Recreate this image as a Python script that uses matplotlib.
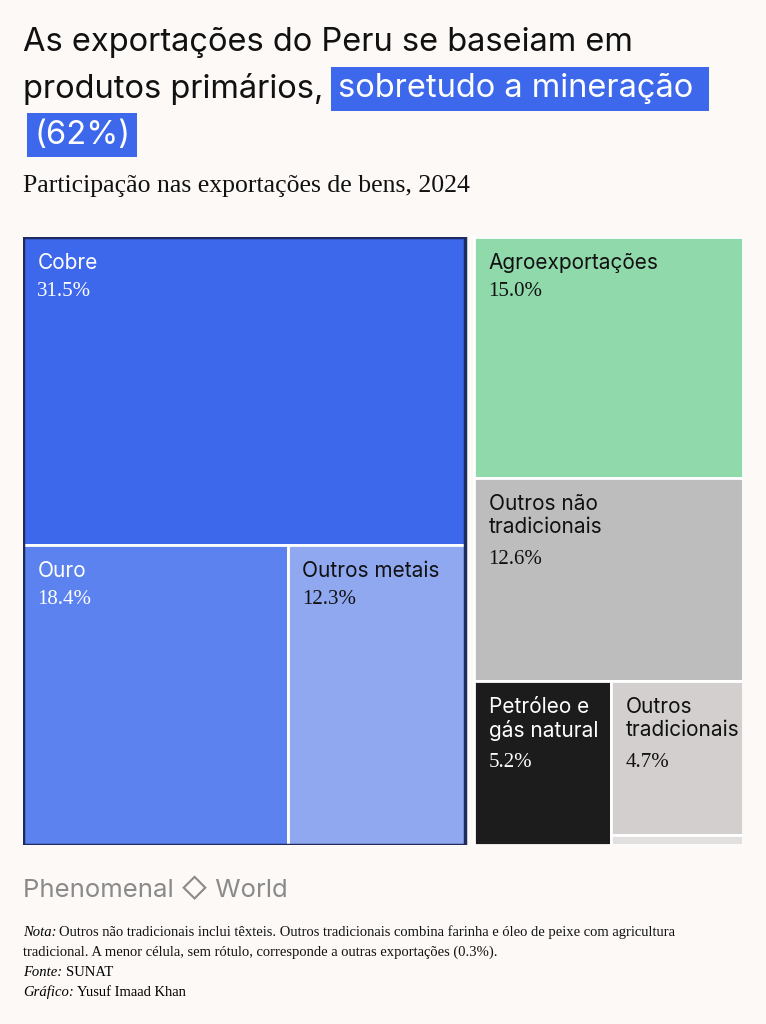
import matplotlib.pyplot as plt
from matplotlib.patches import Rectangle

BG = '#FDF9F7'
plt.rcParams['font.family'] = ['Inter', 'DejaVu Sans']
SERIF = ['Liberation Serif', 'DejaVu Serif']

# data (% of goods exports, 2024)
mining_names = ['Cobre', 'Ouro', 'Outros metais']
mining_vals = [31.5, 18.4, 12.3]
mining_colors = ['#3D68EC', '#5B82EE', '#8FA8F0']
other_names = ['Agroexportações', 'Outros não\ntradicionais', 'Petróleo e\ngás natural', 'Outros\ntradicionais', '']
other_vals = [15.0, 12.6, 5.2, 4.7, 0.3]
other_colors = ['#8FD9AB', '#BDBDBD', '#1C1C1C', '#D3CFCE', '#E2E0DF']

fig = plt.figure(figsize=(7.66, 10.24), dpi=100)
fig.patch.set_facecolor(BG)
W, H = 766, 1024

def fx(px): return px / W
def fy(py): return 1 - py / H

# title
fig.text(fx(23), fy(42), 'As exportações do Peru se baseiam em', fontsize=23.5, va='center', color='#111')
fig.text(fx(23), fy(89), 'produtos primários,', fontsize=23.5, va='center', color='#111')
hl = dict(facecolor='#3D68EC', edgecolor='none', pad=5)
fig.text(fx(338), fy(89), 'sobretudo a mineração ', fontsize=23.5, va='center', color='white', bbox=hl)
fig.text(fx(34), fy(135), '(62%)', fontsize=23.5, va='center', color='white', bbox=hl)
fig.text(fx(23), fy(186), 'Participação nas exportações de bens, 2024', fontsize=18.5, va='center',
         family=SERIF, color='#111')

# treemap axes
x0, x1, y0, y1 = 23, 743, 237, 845
ax = fig.add_axes([fx(x0), fy(y1), fx(x1 - x0), (y1 - y0) / H])
ax.set_xlim(0, 100)
ax.set_ylim(100, 0)
ax.axis('off')

gap = 9 / (x1 - x0) * 100
total = sum(mining_vals) + sum(other_vals)
mw = sum(mining_vals) / total * (100 - gap)
ow = (100 - gap) - mw

def cell(x, y, w, h, color, name, val):
    ax.add_patch(Rectangle((x, y), w, h, facecolor=color, edgecolor='white', lw=2))
    tc = 'white' if color in ('#3D68EC', '#5B82EE', '#1C1C1C') else '#111'
    if name:
        ax.text(x + 2, y + 2.6, name, fontsize=15, va='top', color=tc, linespacing=1.2)
        nl = name.count('\n') + 1
        ax.text(x + 2, y + 3.0 + nl * 4.4, f'{val:.1f}%', fontsize=15, va='top', color=tc, family=SERIF)

# mining group
mtot = sum(mining_vals)
ch = mining_vals[0] / mtot * 100
cell(0, 0, mw, ch, mining_colors[0], mining_names[0], mining_vals[0])
bw0 = mining_vals[1] / (mining_vals[1] + mining_vals[2]) * mw
cell(0, ch, bw0, 100 - ch, mining_colors[1], mining_names[1], mining_vals[1])
cell(bw0, ch, mw - bw0, 100 - ch, mining_colors[2], mining_names[2], mining_vals[2])
ax.add_patch(Rectangle((0, 0), mw, 100, facecolor='none', edgecolor='#1E2B5E', lw=2.5))

# other group
otot = sum(other_vals)
ox = mw + gap
y = 0
for i in range(2):
    h = other_vals[i] / otot * 100
    cell(ox, y, ow, h, other_colors[i], other_names[i], other_vals[i])
    y += h
rest = other_vals[2:]
pw = rest[0] / sum(rest) * ow
cell(ox, y, pw, 100 - y, other_colors[2], other_names[2], rest[0])
th = rest[1] / (rest[1] + rest[2]) * (100 - y)
cell(ox + pw, y, ow - pw, th, other_colors[3], other_names[3], rest[1])
cell(ox + pw, y + th, ow - pw, 100 - y - th, other_colors[4], '', rest[2])

# logo
fig.text(fx(23), fy(890), 'Phenomenal \u25C7 World', fontsize=18.5, va='center', color='#8a8a8a')

# notes
nfs = 10.5
fig.text(fx(23), fy(932), 'Nota:', fontsize=nfs, va='center', family=SERIF, style='italic')
fig.text(fx(59), fy(932), 'Outros não tradicionais inclui têxteis. Outros tradicionais combina farinha e óleo de peixe com agricultura',
         fontsize=nfs, va='center', family=SERIF, color='#111')
fig.text(fx(23), fy(952), 'tradicional. A menor célula, sem rótulo, corresponde a outras exportações (0.3%).',
         fontsize=nfs, va='center', family=SERIF, color='#111')
fig.text(fx(23), fy(972), 'Fonte:', fontsize=nfs, va='center', family=SERIF, style='italic')
fig.text(fx(66), fy(972), 'SUNAT', fontsize=nfs, va='center', family=SERIF)
fig.text(fx(23), fy(992), 'Gráfico:', fontsize=nfs, va='center', family=SERIF, style='italic')
fig.text(fx(77), fy(992), 'Yusuf Imaad Khan', fontsize=nfs, va='center', family=SERIF)

fig.savefig('out.png', dpi=100, facecolor=BG)
